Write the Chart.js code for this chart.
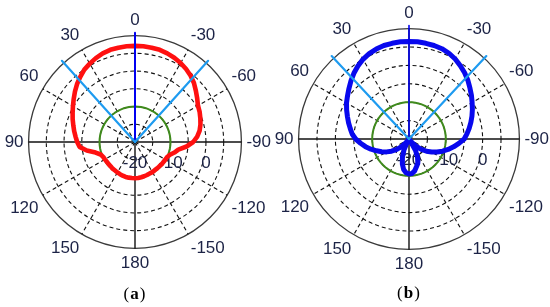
<!DOCTYPE html>
<html><head><meta charset="utf-8">
<script src="https://cdn.jsdelivr.net/npm/chart.js@4"></script>
<style>
html,body{margin:0;padding:0;background:#fff;width:550px;height:307px;overflow:hidden;position:relative}
canvas{position:absolute}
#ca{left:0;top:0}
#cb{left:270px;top:0}
.cap{position:absolute;font-family:"Liberation Serif","Times New Roman",serif;font-size:17px;color:#000;transform:translateX(-50%);letter-spacing:1px;white-space:nowrap}
</style></head><body>
<canvas id="ca" width="275" height="290"></canvas>
<canvas id="cb" width="282" height="290"></canvas>
<div class="cap" style="left:135px;top:284px">(<b>a</b>)</div>
<div class="cap" style="left:409px;top:283px">(<b>b</b>)</div>
<script>
// Angles (degrees, counter-clockwise positive, 0 = top)
const patternAngles = [0,5,10,15,20,25,30,35,40,45,50,55,60,65,70,75,80,85,90,95,100,105,110,115,120,125,130,135,140,145,150,155,160,165,170,175,
  180,185,190,195,200,205,210,215,220,225,230,235,240,245,250,255,260,265,270,275,280,285,290,295,300,305,310,315,320,325,330,335,340,345,350,355];
// Pattern (a), dB
const gainA = [7.1,7.1,7.0,6.9,6.6,6.1,5.5,4.9,4.0,3.1,2.1,1.1,0.2,-0.6,-1.3,-2.0,-2.6,-3.2,-3.7,-4.3,-6.2,-8.5,-9.7,-10.1,-10.2,-10.3,-10.3,-10.3,-10.2,-10.2,-10.1,-10.0,-9.9,-9.8,-9.8,-9.8,
  -9.8,-9.8,-9.9,-10.0,-10.1,-10.2,-10.2,-10.3,-10.3,-10.3,-10.2,-10.2,-10.1,-10.0,-9.5,-8.5,-7.6,-5.4,-3.6,-2.4,-1.5,-0.9,-0.4,0.1,0.5,1.4,2.4,3.5,4.4,5.1,5.7,6.2,6.6,6.9,7.0,7.1];
// Pattern (b), dB
const gainB = [6.5,6.5,6.4,6.3,6.0,5.6,5.0,4.2,3.3,2.3,1.3,0.4,-0.4,-1.3,-2.2,-3.0,-3.8,-4.5,-5.5,-6.8,-8.0,-9.3,-10.6,-11.8,-13.0,-14.2,-15.5,-17.0,-18.6,-19.8,-19.0,-16.8,-14.8,-13.0,-11.6,-10.8,
  -10.5,-10.6,-11.2,-12.2,-13.0,-14.5,-16.5,-19.5,-18.8,-17.2,-15.6,-14.2,-12.9,-11.6,-10.3,-9.0,-7.7,-6.4,-5.0,-4.2,-3.4,-2.6,-1.8,-1.0,-0.2,0.7,1.6,2.6,3.5,4.3,5.1,5.7,6.1,6.3,6.4,6.5];
const referenceLevel = -10;            // green reference circle, dB
const beamEdgesA = [42, -42];          // light-blue markers, degrees
const beamEdgesB = [43, -43];
const mainDirection = 0;               // dark-blue marker, degrees
const markerLevel = 10.8;              // marker end, dB
const radialMin = -20, radialMax = 10, radialStep = 5;
const radialTickLabels = [-20, -10, 0];
const angleTickLabels = [0, -30, -60, -90, -120, -150, 180, 150, 120, 90, 60, 30];

// category axis: index i is i degrees clockwise from top => angle -i
const labels = Array.from({length: 360}, (_, i) => i === 0 ? 0 : (i < 180 ? -i : (i === 180 ? 180 : 360 - i)));
const idxOf = a => ((360 - ((a % 360) + 360) % 360) % 360);
function toRadar(angles, values) {
  const arr = new Array(360).fill(null);
  angles.forEach((a, k) => { arr[idxOf(a)] = values[k]; });
  return arr;
}
function spoke(angle, level) {
  const arr = new Array(360).fill(null);
  const i = idxOf(angle);
  arr[i] = level;
  arr[(i + 1) % 360] = radialMin;
  return arr;
}
const FONT = '"Liberation Sans", Arial, sans-serif';
const TXT = '#1c2346';
const DASH = [4, 3];

const tickLabelPlugin = {
  id: 'tickLabelsRight',
  beforeDatasetsDraw(chart) {
    const s = chart.scales.r, ctx = chart.ctx;
    ctx.save();
    ctx.font = '17px ' + FONT;
    ctx.fillStyle = TXT;
    ctx.textAlign = 'center';
    ctx.textBaseline = 'middle';
    radialTickLabels.forEach(v => {
      const p = s.getPointPositionForValue(idxOf(-90), v);
      ctx.fillText(String(v), p.x, p.y + 21);
    });
    ctx.restore();
  }
};

function lineDs(data, color, width, spanGaps) {
  return {data, borderColor: color, borderWidth: width, pointRadius: 0, pointHitRadius: 0,
    fill: false, spanGaps, tension: 0, borderJoinStyle: 'round', borderCapStyle: 'round'};
}

function makeChart(id, padding, gain, gainColor, gainWidth, edges, mainWidth) {
  const datasets = [
    lineDs(spoke(edges[0], markerLevel), '#1e9bf0', 2.2, false),
    lineDs(spoke(edges[1], markerLevel), '#1e9bf0', 2.2, false),
    lineDs(spoke(mainDirection, markerLevel), '#0000f0', mainWidth, false),
    lineDs(toRadar(patternAngles, gain), gainColor, gainWidth, true),
    lineDs(toRadar(patternAngles, patternAngles.map(() => referenceLevel)), '#3f8a1c', 2, true)
  ];
  const nTicks = (radialMax - radialMin) / radialStep;
  return new Chart(document.getElementById(id), {
    type: 'radar',
    data: {labels, datasets},
    options: {
      responsive: false, animation: false, events: [],
      layout: {padding},
      plugins: {legend: {display: false}, tooltip: {enabled: false}},
      scales: {
        r: {
          min: radialMin, max: radialMax,
          ticks: {display: false, stepSize: radialStep},
          grid: {
            circular: true,
            color: c => c.index === 0 ? 'rgba(0,0,0,0)' : (c.index === nTicks ? '#3a3a3a' : '#111'),
            lineWidth: c => c.index === nTicks ? 1.3 : 1.1,
            borderDash: c => c.index === nTicks ? [] : DASH
          },
          border: {dash: c => c.index === nTicks ? [] : DASH},
          angleLines: {
            display: true,
            color: c => (labels[c.index] % 30 === 0) ? '#111' : 'rgba(0,0,0,0)',
            lineWidth: c => (labels[c.index] % 90 === 0) ? 1.4 : ((labels[c.index] % 30 === 0) ? 1.1 : 0),
            borderDash: c => (labels[c.index] % 90 === 0) ? [] : DASH
          },
          pointLabels: {
            display: true, padding: 5, color: TXT,
            font: {family: FONT, size: 17},
            callback: (v) => angleTickLabels.includes(Number(v)) ? String(v) : ''
          }
        }
      }
    },
    plugins: [tickLabelPlugin]
  });
}

makeChart('ca', {left: 2, right: 1, top: 6, bottom: 12}, gainA, '#ff1010', 4.6, beamEdgesA, 2);
makeChart('cb', {left: 3, right: 0, top: 0, bottom: 11}, gainB, '#0808ee', 5, beamEdgesB, 1.6);
</script>
</body></html>
